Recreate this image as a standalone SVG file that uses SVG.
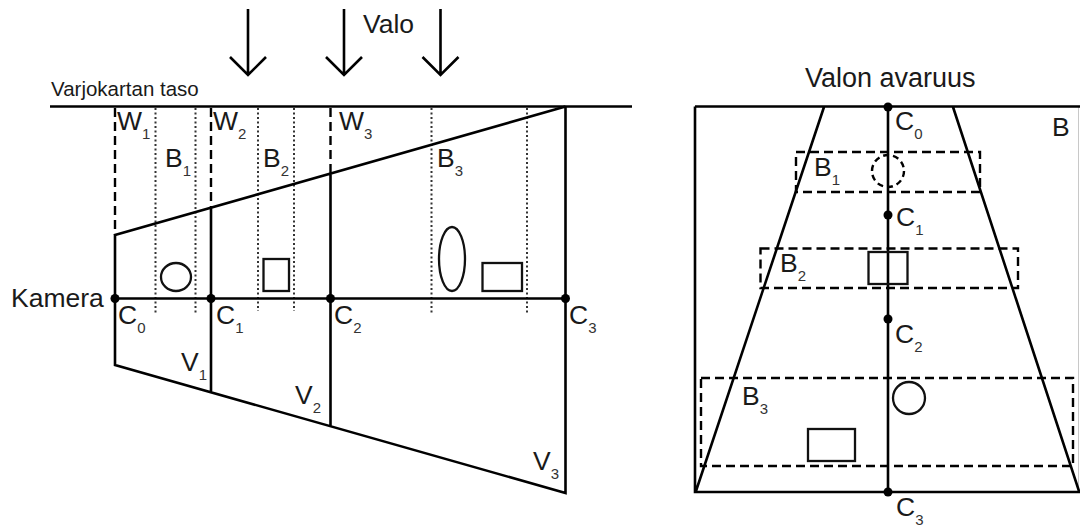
<svg xmlns="http://www.w3.org/2000/svg" width="1080" height="526" viewBox="0 0 1080 526">
<style>
.l{fill:none;stroke:#000;stroke-width:2.6}
.t{fill:none;stroke:#111;stroke-width:2.3}
.d{fill:none;stroke:#000;stroke-width:2.4;stroke-dasharray:9 5}
.o{fill:none;stroke:#333;stroke-width:2;stroke-dasharray:2 2.5}
.p{fill:#000}
text{font-family:"Liberation Sans",Arial,sans-serif;font-size:26.5px;fill:#1a1a1a}
.s{font-size:15px;fill:#333}
</style>
<rect width="1080" height="526" fill="#fff"/>
<g id="connectors">
<path class="l" d="M248 9V75M230 57L248 75L266 57"/>
<path class="l" d="M344 9V75M326 57L344 75L362 57"/>
<path class="l" d="M440.5 9V75M422.5 57L440.5 75L458.5 57"/>
<path class="l" d="M50 106.5H632"/>
<path class="d" d="M115 108V235M211 108V207M330.5 108V173"/>
<path class="o" d="M155.5 108V314M195.5 108V314M258 108V311M294 108V311M431.5 108V314M527 108V314"/>
<path class="l" d="M565.500 106.500L115 235V365L565.500 493V106.500M211 207V392M330.500 173V426M115 298.500H565.500"/>
<path fill="none" stroke="#c8c8c8" stroke-width="1" d="M1078.500 107V491"/>
<path class="l" d="M695 106.500H1080M695 106.500V492H1080M888 107V492M824 107L696 491M953 107L1079 491"/>
<path class="d" d="M796 152H980V192H796ZM760.500 248.500H1018V288H760.500ZM701 378H1073V466H701Z"/>
</g>
<g id="left-objects">
<ellipse class="t" cx="176" cy="277" rx="15" ry="14"/>
<rect class="t" x="263.500" y="259" width="25.500" height="32"/>
<ellipse class="t" cx="452" cy="259" rx="13" ry="32"/>
<rect class="t" x="482.500" y="263" width="39.500" height="28"/>
</g>
<g id="right-objects">
<circle class="d" cx="888" cy="171" r="16" style="stroke-dasharray:6 4"/>
<rect class="t" x="868.500" y="252" width="39" height="32"/>
<circle class="t" cx="909" cy="398" r="16"/>
<rect class="t" x="808" y="429" width="47" height="32"/>
</g>
<g id="points">
<circle class="p" cx="115" cy="298.500" r="4.500"/>
<circle class="p" cx="211" cy="298.500" r="4.500"/>
<circle class="p" cx="330.500" cy="298.500" r="4.500"/>
<circle class="p" cx="565.500" cy="298.500" r="4.500"/>
<circle class="p" cx="888" cy="107" r="4.500"/>
<circle class="p" cx="888" cy="215" r="4.500"/>
<circle class="p" cx="888" cy="319" r="4.500"/>
<circle class="p" cx="888" cy="492" r="4.500"/>
</g>
<g id="labels">
<text x="363" y="33">Valo</text>
<text x="51" y="96" style="font-size:20.500px">Varjokartan taso</text>
<text x="805" y="87" style="font-size:27px">Valon avaruus</text>
<text x="11" y="307">Kamera</text>
<text x="1052" y="136">B</text>
<text x="117" y="130">W<tspan class="s" dy="9">1</tspan></text>
<text x="213" y="130">W<tspan class="s" dy="9">2</tspan></text>
<text x="339" y="130">W<tspan class="s" dy="9">3</tspan></text>
<text x="165" y="167">B<tspan class="s" dy="9">1</tspan></text>
<text x="263" y="167">B<tspan class="s" dy="9">2</tspan></text>
<text x="437" y="167">B<tspan class="s" dy="9">3</tspan></text>
<text x="118" y="324">C<tspan class="s" dy="9">0</tspan></text>
<text x="216" y="324">C<tspan class="s" dy="9">1</tspan></text>
<text x="334" y="324">C<tspan class="s" dy="9">2</tspan></text>
<text x="569" y="324">C<tspan class="s" dy="9">3</tspan></text>
<text x="181" y="371">V<tspan class="s" dy="9">1</tspan></text>
<text x="295" y="404">V<tspan class="s" dy="9">2</tspan></text>
<text x="533" y="470">V<tspan class="s" dy="9">3</tspan></text>
<text x="895" y="130">C<tspan class="s" dy="9">0</tspan></text>
<text x="896" y="226">C<tspan class="s" dy="9">1</tspan></text>
<text x="895" y="343">C<tspan class="s" dy="9">2</tspan></text>
<text x="896" y="516">C<tspan class="s" dy="9">3</tspan></text>
<text x="814" y="176">B<tspan class="s" dy="9">1</tspan></text>
<text x="780" y="272">B<tspan class="s" dy="9">2</tspan></text>
<text x="742" y="405">B<tspan class="s" dy="9">3</tspan></text>
</g>
</svg>
